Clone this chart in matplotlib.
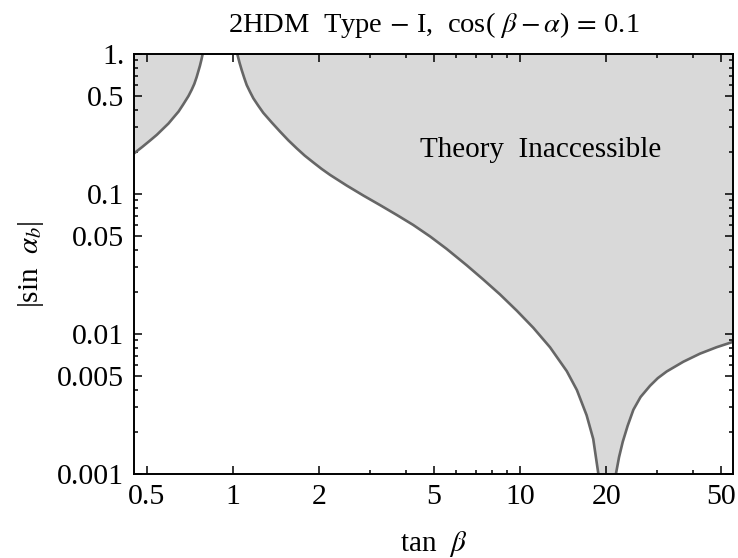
import matplotlib
matplotlib.use('Agg')
import matplotlib.pyplot as plt
from matplotlib.ticker import FixedLocator, FixedFormatter, LogLocator, NullFormatter

plt.rcParams['font.family'] = 'Liberation Serif'
plt.rcParams['mathtext.fontset'] = 'stix'

# boundary of the excluded region (tan beta, |sin alpha_b|)
left_tb = [0.452, 0.483, 0.514, 0.543, 0.571, 0.596, 0.619, 0.646, 0.671, 0.700, 0.718,
           0.733, 0.747, 0.767, 0.776, 0.784]
left_sa = [0.195, 0.217, 0.241, 0.265, 0.293, 0.319, 0.350, 0.388, 0.437, 0.502, 0.556,
           0.611, 0.684, 0.824, 0.908, 1.0]

mid_tb = [1.035, 1.053, 1.072, 1.094, 1.116, 1.146, 1.177, 1.225, 1.275, 1.365, 1.459,
          1.560, 1.667, 1.778, 1.905, 2.037, 2.178, 2.489, 2.851, 3.251, 3.724, 4.246, 4.864,
          5.546, 6.516, 7.447, 8.511, 9.750, 11.12, 12.72, 14.55, 15.78, 17.06, 17.99, 18.75]
mid_sa = [1.0, 0.871, 0.769, 0.676, 0.601, 0.537, 0.483, 0.427, 0.380, 0.324, 0.279,
          0.2415, 0.212, 0.188, 0.168, 0.151, 0.137, 0.115, 0.0973, 0.0834, 0.0708, 0.0601,
          0.0497, 0.0406, 0.0310, 0.0245, 0.0192, 0.01466, 0.01109, 0.00804, 0.00543,
          0.00398, 0.00263, 0.00178, 0.001]

right_tb = [21.58, 22.13, 22.80, 23.71, 24.83, 26.30, 28.38, 30.20, 32.43, 37.07, 42.36,
            48.42, 55.21]
right_sa = [0.001, 0.00132, 0.00170, 0.00221, 0.00288, 0.00355, 0.00427, 0.00484, 0.00540,
            0.00634, 0.00724, 0.00805, 0.00879]

x_ticks = [0.5, 1, 2, 5, 10, 20, 50]
x_minor = [3, 4, 6, 7, 8, 9, 30, 40]
y_ticks = [0.001, 0.005, 0.01, 0.05, 0.1, 0.5, 1]
y_labels = ['0.001', '0.005', '0.01', '0.05', '0.1', '0.5', '1.']

xmin, xmax = 0.452, 55.2
fill_c = '#d9d9d9'
line_c = '#666666'

fig = plt.figure(figsize=(7.38, 5.58), dpi=100)
ax = fig.add_axes([0.1816, 0.1505, 0.8116, 0.7527])
ax.set_xscale('log')
ax.set_yscale('log')

# shaded regions
ax.fill(left_tb + [xmin], left_sa + [1.0], color=fill_c, lw=0)
ax.fill(mid_tb + right_tb + [xmax, mid_tb[0]], mid_sa + right_sa + [1.0, 1.0], color=fill_c, lw=0)

# boundary curves
for tb, sa in [(left_tb, left_sa), (mid_tb, mid_sa), (right_tb, right_sa)]:
    ax.plot(tb, sa, color=line_c, lw=1.9, solid_joinstyle='round', solid_capstyle='round')

ax.set_xlim(xmin, xmax)
ax.set_ylim(0.001, 1.0)

ax.xaxis.set_major_locator(FixedLocator(x_ticks))
ax.xaxis.set_major_formatter(FixedFormatter([str(v) for v in x_ticks]))
ax.xaxis.set_minor_locator(FixedLocator(x_minor))
ax.xaxis.set_minor_formatter(NullFormatter())
ax.yaxis.set_major_locator(FixedLocator(y_ticks))
ax.yaxis.set_major_formatter(FixedFormatter(y_labels))
ax.yaxis.set_minor_locator(LogLocator(base=10, subs=[2, 3, 4, 6, 7, 8, 9]))
ax.yaxis.set_minor_formatter(NullFormatter())

ax.tick_params(which='both', direction='in', top=True, right=True, width=1.1, labelsize=21.5, pad=7)
ax.tick_params(which='major', length=6)
ax.tick_params(which='minor', length=3)
for s in ax.spines.values():
    s.set_linewidth(1.4)

ax.text(11.8, 0.206, 'Theory  Inaccessible', fontsize=21, ha='center', va='center')

ax.set_title(r'2HDM  Type$\,-\,$I,  cos( $\beta-\alpha$)$\,=\,$0.1', fontsize=20.5, pad=16)
ax.set_xlabel(r'tan  $\beta$', fontsize=21, labelpad=14)
ax.set_ylabel(r'|sin  $\alpha_b$|', fontsize=21, labelpad=8)

fig.savefig('out.png', dpi=100)
